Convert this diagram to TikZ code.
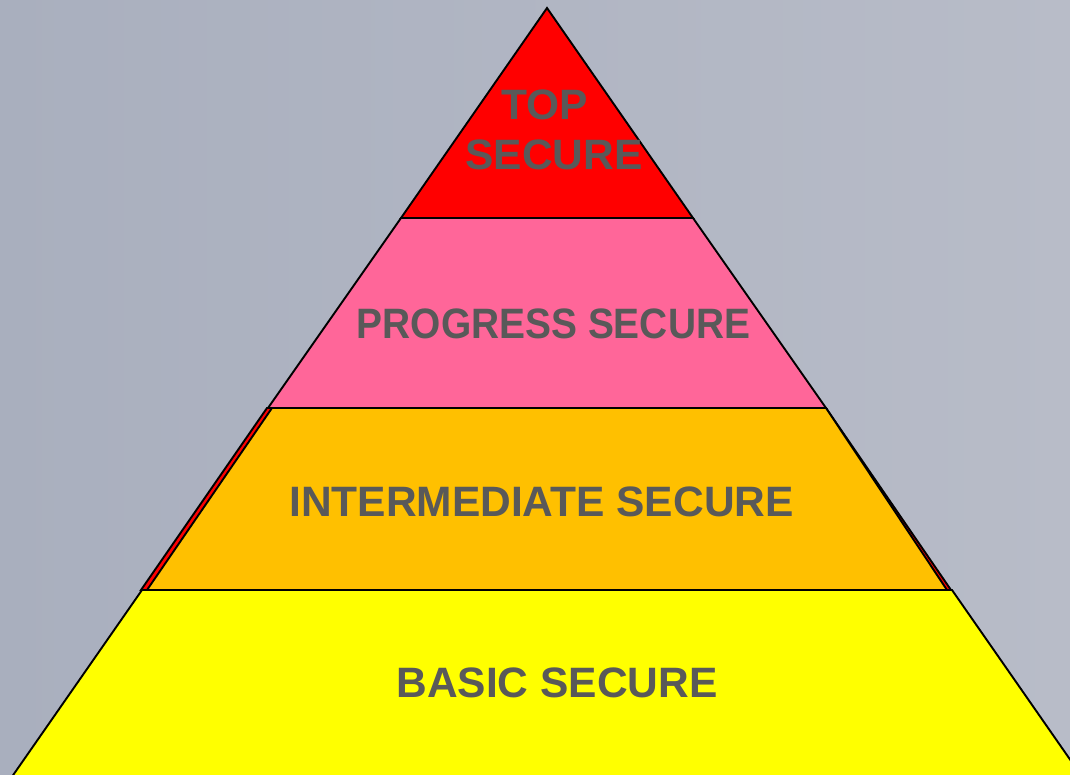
\documentclass[tikz,border=0pt]{standalone}
\usepackage{fontspec}
\setmainfont{Liberation Sans}
\usepackage{graphicx}
\definecolor{bgL}{HTML}{A9AFBE}
\definecolor{bgR}{HTML}{B8BCC8}
\definecolor{lvred}{HTML}{FF0000}
\definecolor{lvpink}{HTML}{FF6699}
\definecolor{lvorange}{HTML}{FFC000}
\definecolor{lvyellow}{HTML}{FFFF00}
\definecolor{txtgray}{HTML}{595959}
\tikzset{
  layer/.style={draw=black, line width=1.9pt, line join=miter},
  lbl/.style={anchor=base, inner sep=0pt, text=txtgray, font=\fontsize{42.5}{50}\selectfont\bfseries}
}
\begin{document}
\begin{tikzpicture}[x=1pt,y=-1pt]
\useasboundingbox (0,0) rectangle (1070,775);
\clip (0,0) rectangle (1070,775);
\shade[left color=bgL, right color=bgR] (0,0) rectangle (1070,775);
% yellow base
\filldraw[layer, fill=lvyellow] (142,590) -- (952,590) -- (1085,781) -- (9,781) -- cycle;
% red sliver behind orange
\filldraw[layer, fill=lvred] (267,408) -- (826,408) -- (951,590) -- (141,590) -- cycle;
% orange
\filldraw[layer, fill=lvorange] (272,408) -- (826,408) -- (947,590) -- (147,590) -- cycle;
% pink
\filldraw[layer, fill=lvpink] (401,218) -- (693,218) -- (826,408) -- (268,408) -- cycle;
% red top
\filldraw[layer, fill=lvred] (547,8) -- (693,218) -- (401,218) -- cycle;
% labels
\node[lbl] (top1) at (545,119.3) {TOP};
\node[lbl] (top2) at (554,170) {SECURE};
\node[lbl] (prog) at (553.5,338.3) {\scalebox{0.915}[1]{PROGRESS SECURE}};
\node[lbl] (inter) at (541.5,516.7) {INTERMEDIATE SECURE};
\node[lbl] (basic) at (557,697.7) {BASIC SECURE};
\end{tikzpicture}
\end{document}
